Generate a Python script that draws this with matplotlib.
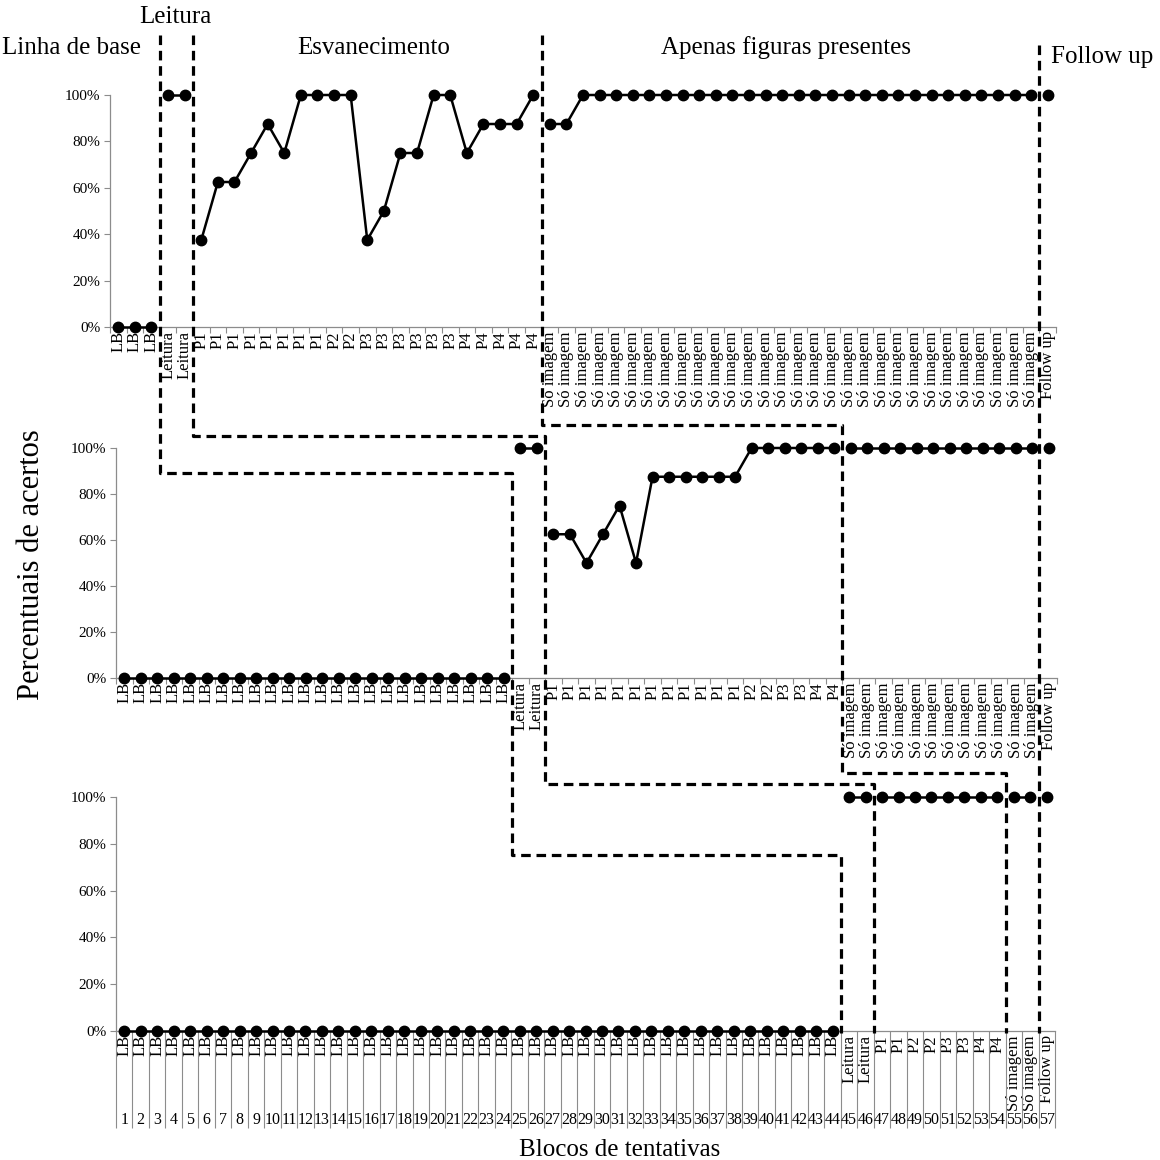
import matplotlib
matplotlib.use("Agg")
import matplotlib.pyplot as plt
from matplotlib.lines import Line2D
import numpy as np

plt.rcParams['font.family'] = ['Liberation Serif', 'DejaVu Serif']

# ---------------- data ----------------
top_labels = (["LB"] * 3 + ["Leitura"] * 2 + ["P1"] * 8 + ["P2"] * 2 + ["P3"] * 6 +
              ["P4"] * 5 + ["Só imagem"] * 30 + ["Follow up"])
top_values = [0, 0, 0,
              100, 100,
              37.5, 62.5, 62.5, 75, 87.5, 75, 100, 100, 100, 100, 37.5, 50, 75, 75, 100, 100,
              75, 87.5, 87.5, 87.5, 100,
              87.5, 87.5, 100, 100, 100, 100, 100, 100, 100, 100, 100, 100, 100, 100, 100,
              100, 100, 100, 100, 100, 100, 100, 100, 100, 100, 100, 100, 100, 100, 100,
              100]

mid_labels = (["LB"] * 24 + ["Leitura"] * 2 + ["P1"] * 12 + ["P2"] * 2 + ["P3"] * 2 +
              ["P4"] * 2 + ["Só imagem"] * 12 + ["Follow up"])
mid_values = [0, 0, 0, 0, 0, 0, 0, 0, 0, 0, 0, 0, 0, 0, 0, 0, 0, 0, 0, 0, 0, 0, 0, 0,
              100, 100,
              62.5, 62.5, 50, 62.5, 75, 50, 87.5, 87.5, 87.5, 87.5, 87.5, 87.5,
              100, 100, 100, 100, 100, 100,
              100, 100, 100, 100, 100, 100, 100, 100, 100, 100, 100, 100,
              100]

bot_labels = (["LB"] * 44 + ["Leitura"] * 2 + ["P1", "P1", "P2", "P2", "P3", "P3", "P4", "P4"] +
              ["Só imagem"] * 2 + ["Follow up"])
bot_values = [0, 0, 0, 0, 0, 0, 0, 0, 0, 0, 0, 0, 0, 0, 0, 0, 0, 0, 0, 0, 0, 0,
              0, 0, 0, 0, 0, 0, 0, 0, 0, 0, 0, 0, 0, 0, 0, 0, 0, 0, 0, 0, 0, 0,
              100, 100,
              100, 100, 100, 100, 100, 100, 100, 100,
              100, 100,
              100]

block_numbers = [str(i) for i in range(1, 58)]
y_ticks = [0, 20, 40, 60, 80, 100]
y_tick_labels = ["0%", "20%", "40%", "60%", "80%", "100%"]
phase_titles = ["Linha de base", "Leitura", "Esvanecimento", "Apenas figuras presentes", "Follow up"]


def phase_of(label):
    if label == "LB":
        return 0
    if label == "Leitura":
        return 1
    if label.startswith("P"):
        return 2
    if label == "Só imagem":
        return 3
    return 4


# ---------------- figure ----------------
W = H = 1160
fig = plt.figure(figsize=(W / 100, H / 100), dpi=100)
GRAY = "#8c8c8c"


def px_axes(left, right, top, bottom):
    return fig.add_axes([left / W, 1 - bottom / H, (right - left) / W, (bottom - top) / H])


ax1 = px_axes(110, 1056, 95, 327)
ax2 = px_axes(116, 1057, 448, 678)
ax3 = px_axes(116, 1055, 797, 1031)

panels = [(ax1, top_labels, top_values), (ax2, mid_labels, mid_values), (ax3, bot_labels, bot_values)]

for i, (ax, labels, values) in enumerate(panels):
    x = np.arange(1, len(labels) + 1)
    phases = np.array([phase_of(l) for l in labels])
    vals = np.array(values, dtype=float)
    for p in range(5):
        m = phases == p
        if m.any():
            ax.plot(x[m], vals[m], color="black", lw=1.8, marker="o", ms=7.5,
                    clip_on=False, zorder=3)
    ax.set_xlim(0.5, len(labels) + 0.5)
    ax.set_ylim(0, 100)
    ax.set_yticks(y_ticks)
    ax.set_yticklabels(y_tick_labels)
    ax.set_xticks(x)
    ax.set_xticklabels(labels, rotation=90, fontsize=12)
    ax.set_xticks(np.arange(0.5, len(labels) + 1), minor=True)
    ax.tick_params(axis="x", which="major", length=0, pad=3)
    ax.tick_params(axis="y", length=4, color=GRAY, width=0.8, labelsize=11, pad=3)
    for s in ["top", "right"]:
        ax.spines[s].set_visible(False)
    for s in ["left", "bottom"]:
        ax.spines[s].set_color(GRAY)
        ax.spines[s].set_linewidth(0.9)
    if i < 2:
        ax.tick_params(axis="x", which="minor", length=4, color=GRAY, width=0.8)
    else:
        ax.tick_params(axis="x", which="minor", length=70, color=GRAY, width=0.8)
        for xi, num in zip(x, block_numbers):
            ax.annotate(num, xy=(xi, 0), xycoords=("data", "axes fraction"),
                        xytext=(0, -64), textcoords="offset points",
                        ha="center", va="center", fontsize=11.5)

# ---------------- phase change lines ----------------
inv = fig.transFigure.inverted()


def boundary(labels, from_phase):
    ph = [phase_of(l) for l in labels]
    last = max(k for k, p in enumerate(ph) if p == from_phase) + 1
    return last + 0.5


def xfig(ax, xd):
    return inv.transform(ax.transData.transform((xd, 0)))[0]


def yfig(py):
    return 1 - py / H


steps = {0: (473, 855), 1: (436, 784), 2: (425, 773)}
top_y, end_y = 35, 1033
for ph, (y1, y2) in steps.items():
    xs_ = [xfig(ax, boundary(lab, ph)) for ax, lab, _ in panels]
    xx = [xs_[0], xs_[0], xs_[1], xs_[1], xs_[2], xs_[2]]
    yy = [yfig(top_y), yfig(y1), yfig(y1), yfig(y2), yfig(y2), yfig(end_y)]
    fig.add_artist(Line2D(xx, yy, transform=fig.transFigure, color="black", lw=2.3,
                          linestyle=(0, (3, 1.8)), zorder=5))

xd = xfig(ax1, boundary(top_labels, 3))
fig.add_artist(Line2D([xd, xd], [yfig(45), yfig(end_y)], transform=fig.transFigure,
                      color="black", lw=2.3, linestyle=(0, (3, 1.8)), zorder=5))

# ---------------- titles ----------------
title_pos = [(72, 48), (175, 17), (374, 48), (786, 48), (1102, 57)]
for t, (px, py) in zip(phase_titles, title_pos):
    fig.text(px / W, 1 - py / H, t, ha="center", va="center", fontsize=18)

fig.text(32 / W, 1 - 565 / H, "Percentuais de acertos", rotation=90,
         ha="center", va="center", fontsize=22)
fig.text(620 / W, 1 - 1150 / H, "Blocos de tentativas", ha="center", va="center", fontsize=18)

fig.savefig("out.png", dpi=100)
